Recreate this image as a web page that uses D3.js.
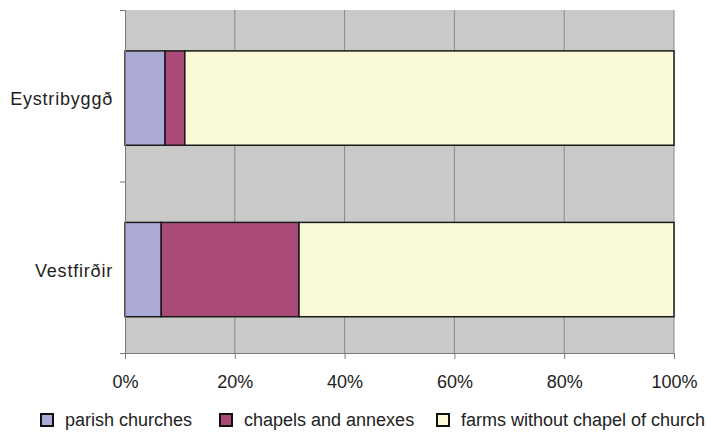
<!DOCTYPE html>
<html>
<head>
<meta charset="utf-8">
<script src="https://cdn.jsdelivr.net/npm/d3@7"></script>
<style>
  body { margin: 0; background: #fff; }
  svg { font-family: "Liberation Sans", Arial, sans-serif; }
</style>
</head>
<body>
<div id="chart"></div>
<script>
// regions on the y axis, top to bottom
var regions = ["Eystribyggð", "Vestfirðir"];
var seriesNames = ["parish churches", "chapels and annexes", "farms without chapel of church"];
// shares of each region (percent)
var parish = [7.3, 6.6];
var chapels = [3.6, 25.1];
var farms = [89.1, 68.3];
var ticks = [0, 20, 40, 60, 80, 100];
var colors = ["#abaad7", "#a94a78", "#fafad8"];

var width = 708, height = 432,
    margin = {top: 10, right: 34, bottom: 79, left: 125};
var w = width - margin.left - margin.right,
    h = height - margin.top - margin.bottom;

var svg = d3.select("#chart").append("svg")
    .attr("width", width)
    .attr("height", height);

var g = svg.append("g").attr("transform", "translate(" + margin.left + "," + margin.top + ")");

var x = d3.scaleLinear().domain([0, 100]).range([0, w]);
var y = d3.scaleBand().domain(regions).range([0, h])
    .paddingInner(0.45).paddingOuter(0.225).align(0.53);

var rows = regions.map(function(r, i) {
  return {region: r, parish: parish[i], chapels: chapels[i], farms: farms[i]};
});
var stack = d3.stack().keys(["parish", "chapels", "farms"])(rows);

// plot background
g.append("rect").attr("width", w).attr("height", h).attr("fill", "#c9c9c7");

// gridlines
g.selectAll("line.grid")
  .data(ticks.slice(1))
  .enter().append("line")
  .attr("class", "grid")
  .attr("x1", function(d) { return x(d); })
  .attr("x2", function(d) { return x(d); })
  .attr("y1", 0).attr("y2", h)
  .attr("stroke", "#8a8a8a").attr("stroke-width", 1);

// bars
g.selectAll("g.series")
  .data(stack)
  .enter().append("g")
  .attr("fill", function(d, i) { return colors[i]; })
  .selectAll("rect")
  .data(function(d) { return d; })
  .enter().append("rect")
  .attr("x", function(d) { return x(d[0]); })
  .attr("width", function(d) { return x(d[1]) - x(d[0]); })
  .attr("y", function(d) { return y(d.data.region); })
  .attr("height", y.bandwidth())
  .attr("stroke", "#1a1a1a")
  .attr("stroke-width", 1.5);

// axes
var xAxis = g.append("g")
  .attr("transform", "translate(0," + h + ")")
  .call(d3.axisBottom(x).tickValues(ticks).tickSize(6).tickPadding(16)
    .tickFormat(function(d) { return d + "%"; }));
xAxis.select(".domain").attr("stroke", "#7a7a7a");
xAxis.selectAll(".tick line").attr("stroke", "#7a7a7a");
xAxis.selectAll("text").attr("font-size", 18).attr("fill", "#222")
  .attr("font-family", "Liberation Sans, Arial, sans-serif");

var yScaleTicks = d3.scaleLinear().domain([0, 2]).range([0, h]);
var yAxis = g.append("g")
  .call(d3.axisLeft(yScaleTicks).tickValues([0, 1, 2]).tickSize(5).tickFormat(""));
yAxis.select(".domain").attr("stroke", "#7a7a7a");
yAxis.selectAll(".tick line").attr("stroke", "#7a7a7a");

g.selectAll("text.cat")
  .data(regions)
  .enter().append("text")
  .attr("class", "cat")
  .attr("x", -12)
  .attr("y", function(d) { return y(d) + y.bandwidth() / 2 + 1; })
  .attr("dy", "0.35em")
  .attr("text-anchor", "end")
  .attr("font-size", 18)
  .attr("letter-spacing", 0.8)
  .attr("fill", "#222")
  .text(function(d) { return d; });

// legend
var legendX = [41, 220, 437];
var legend = svg.append("g").selectAll("g")
  .data(seriesNames)
  .enter().append("g")
  .attr("transform", function(d, i) { return "translate(" + legendX[i] + ",414)"; });
legend.append("rect")
  .attr("width", 12).attr("height", 12)
  .attr("fill", function(d, i) { return colors[i]; })
  .attr("stroke", "#111").attr("stroke-width", 2);
legend.append("text")
  .attr("x", 24).attr("y", 6).attr("dy", "0.35em")
  .attr("font-size", 18).attr("fill", "#222")
  .text(function(d) { return d; });
</script>
</body>
</html>
